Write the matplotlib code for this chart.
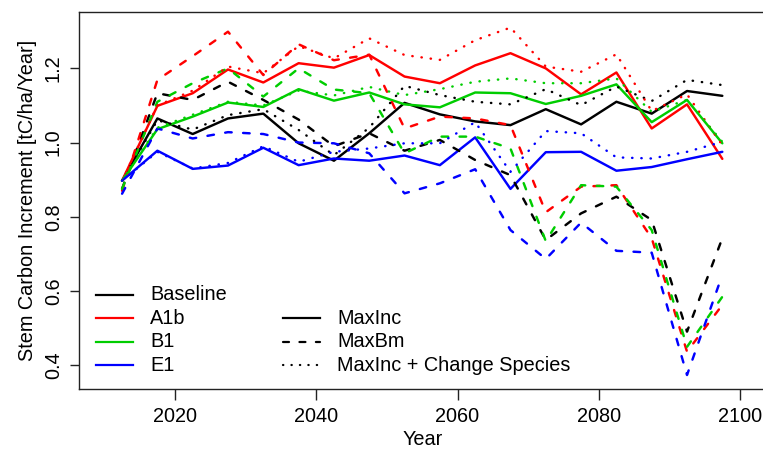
import numpy as np
import matplotlib
matplotlib.use("Agg")
import matplotlib.pyplot as plt
from matplotlib.lines import Line2D

plt.rcParams["font.family"] = ["Liberation Sans", "DejaVu Sans"]

# Mid-points of the 5-year periods
years = np.arange(2012.5, 2100, 5.0)

scenarios = ["Baseline", "A1b", "B1", "E1"]
scenario_colors = ["black", "#FF0000", "#00CD00", "#0000FF"]
management = ["MaxInc", "MaxBm", "MaxInc + Change Species"]

# Stem carbon increment [tC/ha/Year], management MaxInc
baseline_maxinc = [0.897, 1.065, 1.023, 1.065, 1.078, 0.998, 0.951, 1.025, 1.107,
                   1.076, 1.057, 1.047, 1.090, 1.049, 1.110, 1.078, 1.139, 1.126]
a1b_maxinc = [0.897, 1.099, 1.133, 1.197, 1.162, 1.214, 1.202, 1.236, 1.178,
              1.160, 1.208, 1.241, 1.200, 1.130, 1.189, 1.038, 1.103, 0.956]
b1_maxinc = [0.897, 1.036, 1.070, 1.108, 1.096, 1.144, 1.113, 1.135, 1.103,
             1.095, 1.135, 1.133, 1.104, 1.126, 1.157, 1.055, 1.115, 0.998]
e1_maxinc = [0.897, 0.978, 0.929, 0.938, 0.986, 0.939, 0.957, 0.951, 0.965,
             0.939, 1.014, 0.875, 0.974, 0.975, 0.924, 0.934, 0.955, 0.975]

# Management MaxBm
baseline_maxbm = [0.875, 1.133, 1.115, 1.164, 1.115, 1.062, 0.990, 1.025, 0.978,
                  1.007, 0.953, 0.912, 0.737, 0.809, 0.854, 0.791, 0.490, 0.742]
a1b_maxbm = [0.870, 1.169, 1.233, 1.299, 1.182, 1.265, 1.222, 1.237, 1.038,
             1.070, 1.065, 1.047, 0.812, 0.881, 0.885, 0.742, 0.436, 0.562]
b1_maxbm = [0.875, 1.110, 1.160, 1.200, 1.124, 1.200, 1.143, 1.133, 0.971,
            1.016, 1.016, 0.984, 0.734, 0.885, 0.881, 0.764, 0.449, 0.584]
e1_maxbm = [0.862, 1.038, 1.011, 1.028, 1.023, 1.000, 0.998, 0.971, 0.863,
            0.890, 0.928, 0.764, 0.686, 0.784, 0.708, 0.703, 0.373, 0.643]

# Management MaxInc + Change Species
baseline_change = [0.897, 1.060, 1.035, 1.074, 1.090, 1.034, 0.966, 1.040, 1.153,
                   1.128, 1.110, 1.103, 1.144, 1.101, 1.151, 1.112, 1.169, 1.155]
a1b_change = [0.897, 1.100, 1.140, 1.205, 1.187, 1.260, 1.227, 1.281, 1.236,
              1.223, 1.276, 1.310, 1.205, 1.191, 1.238, 1.085, 1.130, 0.993]
b1_change = [0.897, 1.040, 1.075, 1.110, 1.100, 1.140, 1.127, 1.150, 1.128,
             1.144, 1.164, 1.173, 1.160, 1.160, 1.173, 1.083, 1.115, 1.002]
e1_change = [0.897, 0.975, 0.930, 0.945, 0.990, 0.948, 0.975, 0.984, 0.998,
             0.998, 1.055, 0.921, 1.031, 1.025, 0.960, 0.957, 0.975, 1.002]

series = {
    "MaxInc": [baseline_maxinc, a1b_maxinc, b1_maxinc, e1_maxinc],
    "MaxBm": [baseline_maxbm, a1b_maxbm, b1_maxbm, e1_maxbm],
    "MaxInc + Change Species": [baseline_change, a1b_change, b1_change, e1_change],
}

LW = 1.75
FS = 14.3
styles = {
    "MaxInc": dict(linestyle="-"),
    "MaxBm": dict(linestyle=(0, (2.7, 4.7))),
    "MaxInc + Change Species": dict(linestyle=(0, (0.15, 3.65))),
}

W, H = 763, 450
fig = plt.figure(figsize=(W / 100, H / 100), dpi=100)
ax = fig.add_axes([79 / W, 61 / H, (765.4 - 79) / W, (389 - 12) / H])

for mgmt in management:
    for vals, col in zip(series[mgmt], scenario_colors):
        ax.plot(years, vals, color=col, lw=LW, dash_capstyle="round",
                solid_capstyle="round", solid_joinstyle="round", **styles[mgmt])

ax.set_xlim(2006.4, 2103.6)
ax.set_ylim(0.3353, 1.3521)
ax.set_xticks([2020, 2040, 2060, 2080, 2100])
ax.set_yticks([0.4, 0.6, 0.8, 1.0, 1.2])
ax.set_yticklabels(["0.4", "0.6", "0.8", "1.0", "1.2"], rotation=90, va="center")

for s in ax.spines.values():
    s.set_color("#222222")
    s.set_linewidth(1.0)
ax.tick_params(axis="x", direction="out", length=7.8, width=1.0, pad=5.0,
               labelsize=FS, color="#222222")
ax.tick_params(axis="y", direction="out", length=6.2, width=1.0, pad=5.5,
               labelsize=FS, color="#222222")

ax.set_xlabel("Year", fontsize=FS, labelpad=3)
ax.set_ylabel("Stem Carbon Increment [tC/ha/Year]", fontsize=FS, labelpad=5)


def px(x, y):
    return x / W, 1 - y / H


# Scenario legend (colours)
for i, (name, col) in enumerate(zip(scenarios, scenario_colors)):
    y = 295 + i * 23.4
    fig.add_artist(Line2D([96 / W, 133 / W], [1 - y / H] * 2, color=col, lw=1.6))
    fig.text(*px(150, y), name, fontsize=FS, va="center", ha="left")

# Management legend (line types)
for i, mgmt in enumerate(management):
    y = 318.4 + i * 23.4
    fig.add_artist(Line2D([283 / W, 320 / W], [1 - y / H] * 2, color="black",
                          lw=1.6, dash_capstyle="round", **styles[mgmt]))
    fig.text(*px(337, y), mgmt, fontsize=FS, va="center", ha="left")

fig.savefig("out.png", dpi=100)
